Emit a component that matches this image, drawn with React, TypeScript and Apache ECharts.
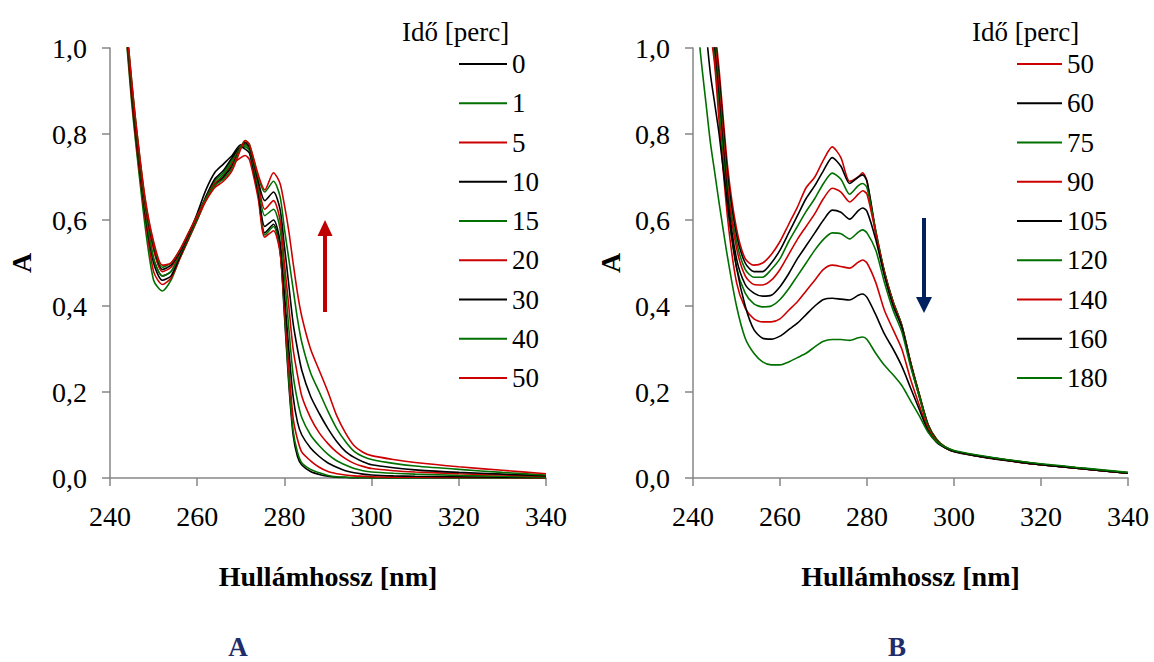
import React, { useEffect, useRef } from "react";
import * as echarts from "echarts";

// ---------- DATA ----------
const xTicks = [240, 260, 280, 300, 320, 340];

const leftWavelengths = [243, 244, 245, 246, 248, 250, 252, 254, 256, 258, 260, 262, 264, 266, 268, 270, 271, 272, 274, 275.5, 277.5, 279, 280, 281, 282, 283, 284, 286, 288, 290, 292, 294, 296, 298, 300, 305, 310, 320, 330, 340];
const leftTimes = ["0", "1", "5", "10", "15", "20", "30", "40", "50"];
const L_t0 = [1.12, 1.01, 0.90, 0.80, 0.63, 0.51, 0.47, 0.48, 0.52, 0.565, 0.615, 0.67, 0.71, 0.73, 0.75, 0.775, 0.775, 0.765, 0.66, 0.57, 0.59, 0.53, 0.38, 0.22, 0.10, 0.05, 0.03, 0.015, 0.008, 0.004, 0.002, 0.001, 0, 0, 0, 0, 0, 0, 0, 0];
const L_t1 = [1.10, 0.99, 0.87, 0.77, 0.59, 0.46, 0.435, 0.46, 0.51, 0.555, 0.60, 0.65, 0.69, 0.71, 0.74, 0.77, 0.77, 0.76, 0.66, 0.565, 0.585, 0.53, 0.39, 0.23, 0.11, 0.06, 0.035, 0.02, 0.012, 0.006, 0.003, 0.002, 0.001, 0.001, 0, 0, 0, 0, 0, 0];
const L_t5 = [1.11, 1.0, 0.88, 0.78, 0.61, 0.48, 0.45, 0.465, 0.51, 0.555, 0.60, 0.645, 0.68, 0.70, 0.73, 0.745, 0.75, 0.74, 0.65, 0.56, 0.575, 0.525, 0.40, 0.26, 0.14, 0.09, 0.06, 0.04, 0.025, 0.015, 0.01, 0.007, 0.005, 0.004, 0.003, 0.002, 0.002, 0.001, 0.001, 0];
const L_t10 = [1.12, 1.01, 0.89, 0.79, 0.62, 0.50, 0.46, 0.47, 0.515, 0.56, 0.605, 0.655, 0.695, 0.715, 0.745, 0.77, 0.765, 0.755, 0.665, 0.585, 0.60, 0.55, 0.43, 0.30, 0.19, 0.13, 0.10, 0.07, 0.05, 0.035, 0.025, 0.017, 0.012, 0.009, 0.007, 0.005, 0.004, 0.003, 0.002, 0.001];
const L_t15 = [1.12, 1.01, 0.90, 0.80, 0.63, 0.51, 0.47, 0.48, 0.52, 0.56, 0.605, 0.65, 0.685, 0.705, 0.735, 0.77, 0.775, 0.765, 0.675, 0.61, 0.625, 0.58, 0.47, 0.35, 0.24, 0.18, 0.14, 0.10, 0.075, 0.055, 0.04, 0.03, 0.022, 0.017, 0.014, 0.011, 0.009, 0.006, 0.004, 0.002];
const L_t20 = [1.13, 1.02, 0.91, 0.81, 0.64, 0.53, 0.48, 0.49, 0.525, 0.565, 0.61, 0.65, 0.685, 0.70, 0.73, 0.77, 0.78, 0.77, 0.685, 0.625, 0.645, 0.60, 0.50, 0.40, 0.30, 0.24, 0.19, 0.14, 0.105, 0.08, 0.06, 0.045, 0.034, 0.027, 0.022, 0.017, 0.014, 0.01, 0.007, 0.004];
const L_t30 = [1.13, 1.02, 0.91, 0.81, 0.645, 0.54, 0.485, 0.495, 0.525, 0.565, 0.61, 0.65, 0.68, 0.70, 0.725, 0.77, 0.78, 0.77, 0.69, 0.645, 0.665, 0.625, 0.54, 0.45, 0.36, 0.30, 0.25, 0.19, 0.15, 0.115, 0.085, 0.062, 0.048, 0.038, 0.031, 0.024, 0.019, 0.013, 0.009, 0.005];
const L_t40 = [1.14, 1.03, 0.92, 0.82, 0.65, 0.545, 0.49, 0.50, 0.53, 0.57, 0.61, 0.65, 0.68, 0.695, 0.72, 0.77, 0.785, 0.775, 0.70, 0.665, 0.69, 0.655, 0.58, 0.51, 0.44, 0.37, 0.315, 0.245, 0.20, 0.155, 0.115, 0.085, 0.062, 0.05, 0.043, 0.034, 0.028, 0.02, 0.013, 0.007];
const L_t50 = [1.14, 1.03, 0.92, 0.82, 0.655, 0.55, 0.495, 0.50, 0.53, 0.57, 0.61, 0.645, 0.675, 0.69, 0.715, 0.765, 0.785, 0.775, 0.705, 0.67, 0.71, 0.685, 0.635, 0.575, 0.50, 0.43, 0.375, 0.30, 0.25, 0.20, 0.145, 0.105, 0.075, 0.06, 0.052, 0.043, 0.036, 0.026, 0.018, 0.01];
const leftValues = [L_t0, L_t1, L_t5, L_t10, L_t15, L_t20, L_t30, L_t40, L_t50];

const rightWavelengths = [241, 242, 243, 244, 245, 246, 248, 250, 252, 254, 256, 258, 260, 262, 264, 266, 268, 270, 272, 274, 276, 278, 279, 280, 282, 284, 286, 288, 290, 292, 294, 296, 298, 300, 305, 310, 320, 330, 340];
const rightTimes = ["50", "60", "75", "90", "105", "120", "140", "160", "180"];
const R_t50 = [1.6, 1.45, 1.3, 1.17, 1.05, 0.95, 0.72, 0.58, 0.51, 0.495, 0.50, 0.52, 0.55, 0.59, 0.63, 0.675, 0.70, 0.74, 0.77, 0.745, 0.69, 0.70, 0.71, 0.69, 0.57, 0.48, 0.41, 0.355, 0.27, 0.195, 0.125, 0.09, 0.072, 0.063, 0.053, 0.045, 0.032, 0.022, 0.012];
const R_t60 = [1.55, 1.42, 1.28, 1.15, 1.03, 0.93, 0.70, 0.565, 0.50, 0.48, 0.48, 0.50, 0.53, 0.57, 0.61, 0.65, 0.68, 0.715, 0.745, 0.725, 0.685, 0.70, 0.705, 0.69, 0.575, 0.48, 0.41, 0.355, 0.27, 0.195, 0.125, 0.088, 0.071, 0.062, 0.052, 0.044, 0.031, 0.021, 0.011];
const R_t75 = [1.5, 1.38, 1.25, 1.13, 1.02, 0.91, 0.68, 0.55, 0.485, 0.467, 0.467, 0.485, 0.51, 0.55, 0.585, 0.62, 0.65, 0.685, 0.709, 0.695, 0.66, 0.68, 0.685, 0.675, 0.575, 0.48, 0.41, 0.355, 0.27, 0.195, 0.125, 0.09, 0.072, 0.063, 0.053, 0.045, 0.032, 0.022, 0.012];
const R_t90 = [1.5, 1.37, 1.24, 1.12, 1.01, 0.90, 0.67, 0.535, 0.47, 0.45, 0.449, 0.46, 0.485, 0.52, 0.555, 0.585, 0.615, 0.65, 0.674, 0.665, 0.642, 0.66, 0.668, 0.66, 0.57, 0.475, 0.405, 0.352, 0.268, 0.193, 0.123, 0.088, 0.071, 0.062, 0.052, 0.044, 0.031, 0.021, 0.011];
const R_t105 = [1.45, 1.34, 1.22, 1.1, 0.99, 0.88, 0.65, 0.51, 0.45, 0.43, 0.423, 0.425, 0.445, 0.475, 0.51, 0.54, 0.57, 0.60, 0.623, 0.618, 0.602, 0.622, 0.628, 0.62, 0.555, 0.47, 0.40, 0.35, 0.265, 0.19, 0.122, 0.087, 0.07, 0.061, 0.051, 0.043, 0.031, 0.021, 0.011];
const R_t120 = [1.4, 1.3, 1.18, 1.06, 0.97, 0.86, 0.63, 0.49, 0.43, 0.405, 0.398, 0.40, 0.415, 0.44, 0.47, 0.50, 0.53, 0.555, 0.57, 0.568, 0.556, 0.572, 0.577, 0.57, 0.53, 0.455, 0.39, 0.34, 0.26, 0.19, 0.12, 0.086, 0.07, 0.062, 0.052, 0.045, 0.032, 0.022, 0.012];
const R_t140 = [1.35, 1.24, 1.12, 1.04, 0.96, 0.83, 0.60, 0.455, 0.395, 0.37, 0.363, 0.363, 0.37, 0.39, 0.41, 0.435, 0.46, 0.485, 0.495, 0.492, 0.488, 0.502, 0.507, 0.50, 0.455, 0.39, 0.345, 0.30, 0.23, 0.17, 0.115, 0.085, 0.07, 0.062, 0.052, 0.044, 0.031, 0.021, 0.011];
const R_t160 = [1.26, 1.15, 1.04, 0.94, 0.87, 0.80, 0.63, 0.49, 0.40, 0.345, 0.325, 0.323, 0.33, 0.345, 0.36, 0.38, 0.40, 0.415, 0.418, 0.416, 0.414, 0.425, 0.428, 0.42, 0.38, 0.335, 0.30, 0.26, 0.21, 0.16, 0.11, 0.083, 0.07, 0.062, 0.052, 0.044, 0.031, 0.021, 0.011];
const R_t180 = [1.06, 0.96, 0.87, 0.78, 0.71, 0.64, 0.51, 0.40, 0.325, 0.29, 0.27, 0.263, 0.263, 0.27, 0.28, 0.29, 0.305, 0.318, 0.322, 0.322, 0.32, 0.326, 0.328, 0.322, 0.29, 0.262, 0.24, 0.215, 0.18, 0.145, 0.107, 0.084, 0.072, 0.064, 0.054, 0.046, 0.033, 0.023, 0.013];
const rightValues = [R_t50, R_t60, R_t75, R_t90, R_t105, R_t120, R_t140, R_t160, R_t180];

const legendTitle = "Idő [perc]";
const xAxisTitle = "Hullámhossz [nm]";
const yAxisTitle = "A";
const panelLabels = ["A", "B"];

// ---------- STYLE ----------
const FONT = "serif";
const BLACK = "#000000";
const GREEN = "#007000";
const RED = "#CC0000";
const leftColors = [BLACK, GREEN, RED, BLACK, GREEN, RED, BLACK, GREEN, RED];
const rightColors = [RED, BLACK, GREEN, RED, BLACK, GREEN, RED, BLACK, GREEN];
const AXIS_GRAY = "#868686";

function makeXAxis(gridIndex: number) {
  return {
    type: "value",
    gridIndex,
    min: xTicks[0],
    max: xTicks[xTicks.length - 1],
    interval: 20,
    name: xAxisTitle,
    nameLocation: "middle",
    nameGap: 84,
    nameTextStyle: { fontFamily: FONT, fontSize: 28, fontWeight: "bold", color: BLACK },
    axisLine: { show: true, lineStyle: { color: AXIS_GRAY, width: 1.5 } },
    axisTick: { show: true, inside: false, length: 8, lineStyle: { color: AXIS_GRAY, width: 1.5 } },
    axisLabel: { fontFamily: FONT, fontSize: 28, fontWeight: "normal", color: BLACK, margin: 24 },
    splitLine: { show: false },
  };
}

function makeYAxis(gridIndex: number, nameGap: number) {
  return {
    type: "value",
    gridIndex,
    min: 0,
    max: 1,
    interval: 0.2,
    name: yAxisTitle,
    nameLocation: "middle",
    nameRotate: 90,
    nameGap,
    nameTextStyle: { fontFamily: FONT, fontSize: 28, fontWeight: "bold", color: BLACK },
    axisLine: { show: true, lineStyle: { color: AXIS_GRAY, width: 1.5 } },
    axisTick: { show: true, inside: false, length: 8, lineStyle: { color: AXIS_GRAY, width: 1.5 } },
    axisLabel: {
      fontFamily: FONT,
      fontSize: 28,
      fontWeight: "normal",
      color: BLACK,
      margin: 23,
      formatter: (v: number) => v.toFixed(1).replace(".", ","),
    },
    splitLine: { show: false },
  };
}

function makeSeries(names: string[], wl: number[], values: number[][], colors: string[], gi: number) {
  return names.map((n, i) => ({
    name: n,
    type: "line",
    xAxisIndex: gi,
    yAxisIndex: gi,
    data: wl.map((w, k) => [w, values[i][k]]),
    showSymbol: false,
    symbol: "none",
    smooth: 0.25,
    clip: true,
    lineStyle: { color: colors[i], width: 1.6 },
    itemStyle: { color: colors[i] },
  }));
}

function makeLegend(names: string[], left: number, itemWidth: number) {
  return {
    orient: "vertical",
    left,
    top: 50,
    padding: 0,
    icon: "rect",
    itemWidth,
    itemHeight: 2,
    itemGap: 11.25,
    selectedMode: false,
    data: names,
    textStyle: { fontFamily: FONT, fontSize: 27, fontWeight: "normal", color: BLACK, lineHeight: 28 },
  };
}

export default function App() {
  const ref = useRef<HTMLDivElement>(null);
  useEffect(() => {
    if (!ref.current) return;
    const chart = echarts.init(ref.current, undefined, { renderer: "svg" });
    const option = {
      animation: false,
      backgroundColor: "#ffffff",
      textStyle: { fontFamily: FONT },
      grid: [
        { left: 110, top: 48, width: 436, height: 430 },
        { left: 693, top: 48, width: 435, height: 430 },
      ],
      xAxis: [makeXAxis(0), makeXAxis(1)],
      yAxis: [makeYAxis(0, 75), makeYAxis(1, 69)],
      legend: [makeLegend(leftTimes, 459, 48), makeLegend(rightTimes, 1017, 45)],
      series: [
        ...makeSeries(leftTimes, leftWavelengths, leftValues, leftColors, 0),
        ...makeSeries(rightTimes, rightWavelengths, rightValues, rightColors, 1),
      ],
      graphic: [
        { type: "text", x: 402, y: 32, style: { text: legendTitle, font: `27px ${FONT}`, fill: BLACK, align: "left", verticalAlign: "middle" } },
        { type: "text", x: 972, y: 32, style: { text: legendTitle, font: `27px ${FONT}`, fill: BLACK, align: "left", verticalAlign: "middle" } },
        // red arrow (up) in left panel
        { type: "rect", shape: { x: 323, y: 234, width: 4, height: 78 }, style: { fill: "#C00000" } },
        { type: "polygon", shape: { points: [[317.5, 236], [332.5, 236], [325, 220]] }, style: { fill: "#C00000" } },
        // navy arrow (down) in right panel
        { type: "rect", shape: { x: 922, y: 218, width: 4, height: 82 }, style: { fill: "#002060" } },
        { type: "polygon", shape: { points: [[916, 297], [932, 297], [924, 313]] }, style: { fill: "#002060" } },
        // panel labels
        { type: "text", x: 238, y: 647, style: { text: panelLabels[0], font: `bold 27px ${FONT}`, lineHeight: 22, fill: "#1F2D6B", align: "center", verticalAlign: "middle" } },
        { type: "text", x: 897, y: 647, style: { text: panelLabels[1], font: `bold 27px ${FONT}`, lineHeight: 22, fill: "#1F2D6B", align: "center", verticalAlign: "middle" } },
      ],
    };
    chart.setOption(option as any);
    return () => chart.dispose();
  }, []);
  return (
    <div
      ref={ref}
      style={{ position: "fixed", left: 0, top: 0, width: 1154, height: 662, background: "#fff", fontFamily: "Liberation Serif" }}
    />
  );
}
